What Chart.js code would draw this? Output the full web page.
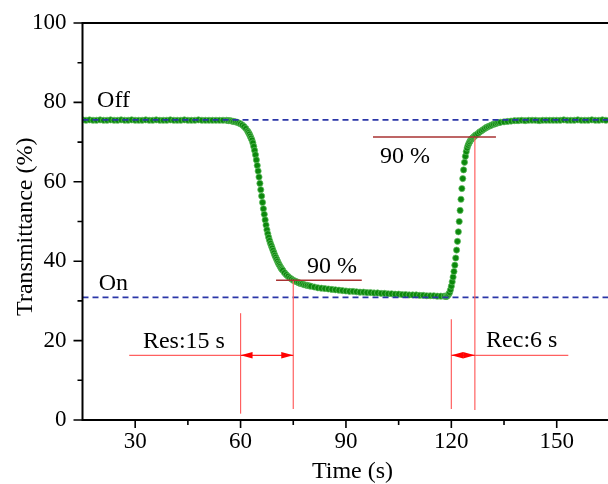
<!DOCTYPE html>
<html>
<head>
<meta charset="utf-8">
<script src="https://cdn.jsdelivr.net/npm/chart.js@4.4.1/dist/chart.umd.min.js"></script>
<style>
  html, body { margin: 0; padding: 0; background: #ffffff; overflow: hidden; }
  #wrap { width: 608px; height: 484px; }
</style>
</head>
<body>
<div id="wrap"><canvas id="c" width="608" height="484"></canvas></div>
<script>
// ---------------- data ----------------
const xTickLabels = [30, 60, 90, 120, 150];
const yTickLabels = [0, 20, 40, 60, 80, 100];
const xMinorTicks = [45, 75, 105, 135];
const yMinorTicks = [10, 30, 50, 70, 90];

// [time (s), transmittance (%)]
const offPlateau = [[15,75.6],[16,75.5],[17,75.6],[18,75.5],[19,75.5],[20,75.6],[21,75.5],[22,75.5],[23,75.6],[24,75.5],
  [25,75.5],[26,75.6],[27,75.5],[28,75.5],[29,75.6],[30,75.5],[31,75.5],[32,75.5],[33,75.6],[34,75.5],[35,75.5],
  [36,75.6],[37,75.5],[38,75.5],[39,75.5],[40,75.6],[41,75.5],[42,75.5],[43,75.5],[44,75.6],[45,75.5],[46,75.5],
  [47,75.5],[48,75.6],[49,75.5],[50,75.5],[51,75.5],[52,75.5],[53,75.5],[54,75.5],[55,75.5]];
const fallEdge = [[56,75.5],[56.5,75.4],[57,75.4],[57.5,75.3],[58,75.2],[58.5,75.1],[59,75.0],[59.5,74.8],[60,74.6],
  [60.5,74.3],[61,73.9],[61.5,73.4],[62,72.8],[62.25,72.4],[62.5,72.0],[62.75,71.5],[63,71.0],[63.25,70.5],[63.5,69.8],
  [63.75,68.9],[64,67.9],[64.25,66.8],[64.5,65.5],[64.75,64.1],[65,62.7],[65.25,61.2],[65.5,59.6],[65.75,58.0],
  [66,56.4],[66.25,54.8],[66.5,53.2],[66.75,51.8],[67,50.4],[67.25,49.1],[67.5,47.9],[67.75,46.9],[68,46.0],
  [68.25,45.2],[68.5,44.5],[68.75,43.9],[69,43.3],[69.25,42.7],[69.5,42.1],[69.75,41.5],[70,41.0],[70.25,40.5],
  [70.5,40.0],[70.75,39.5],[71,39.1],[71.25,38.7],[71.5,38.3],[71.75,38.0],[72,37.7],[72.5,37.1],[73,36.6],
  [73.5,36.2],[74,35.8],[74.5,35.5],[75,35.2],[75.5,35.0],[76,34.8],[76.5,34.6],[77,34.4],[77.5,34.3],[78,34.1],
  [78.5,34.0],[79,33.9],[79.5,33.8],[80,33.7]];
const onPlateau = [[81,33.5],[82,33.3],[83,33.2],[84,33.1],[85,33.0],[86,32.9],[87,32.8],[88,32.7],[89,32.6],[90,32.5],
  [91,32.4],[92,32.4],[93,32.3],[94,32.2],[95,32.2],[96,32.1],[97,32.1],[98,32.0],[99,32.0],[100,31.9],[101,31.9],
  [102,31.8],[103,31.8],[104,31.7],[105,31.7],[106,31.6],[107,31.6],[108,31.5],[109,31.5],[110,31.5],[111,31.4],
  [112,31.4],[113,31.3],[114,31.3],[115,31.3],[116,31.2],[117,31.2],[118,31.2]];
const riseEdge = [[118.5,31.1],[118.75,31.2],[119,31.4],[119.25,31.7],[119.5,32.1],[119.75,32.8],[120,33.7],
  [120.25,34.8],[120.5,36.0],[120.75,37.4],[121,39.0],[121.25,40.8],[121.5,42.8],[121.75,45.0],[122,47.4],
  [122.25,50.0],[122.5,52.8],[122.75,55.6],[123,58.3],[123.25,60.8],[123.5,63.0],[123.75,64.9],[124,66.4],
  [124.25,67.6],[124.5,68.5],[124.75,69.2],[125,69.7],[125.25,70.1],[125.5,70.5],[125.75,70.8],[126,71.0],
  [126.25,71.2],[126.5,71.4],[126.75,71.6],[127,71.8],[127.5,72.1],[128,72.5],[128.5,72.8],[129,73.1],[129.5,73.4],
  [130,73.7],[130.5,73.9],[131,74.1],[131.5,74.3],[132,74.5],[132.5,74.6],[133,74.8],[133.5,74.9],[134,75.0]];
const recovered = [[135,75.1],[136,75.2],[137,75.3],[138,75.4],[139,75.4],[140,75.5],[141,75.4],[142,75.5],[143,75.5],
  [144,75.5],[145,75.4],[146,75.5],[147,75.5],[148,75.5],[149,75.5],[150,75.5],[151,75.5],[152,75.6],[153,75.5],
  [154,75.5],[155,75.5],[156,75.6],[157,75.5],[158,75.5],[159,75.5],[160,75.6],[161,75.5],[162,75.5],[163,75.6],
  [164,75.5]];

const offLevel = 75.6;   // "Off" reference level
const onLevel = 30.9;    // "On" reference level
const resTimes = [60, 75];      // response: 15 s
const recTimes = [120, 126.7];  // recovery: 6 s
const level90 = [35.2, 71.3];   // 90 % levels (fall, rise)

const xMin = 15, xMax = 164.6;

// ---------------- chart ----------------
const FONT = '"Liberation Serif", "Times New Roman", serif';
const pts = [...offPlateau, ...fallEdge, ...onPlateau, ...riseEdge, ...recovered].map(([x, y]) => ({x, y}));

const overlay = {
  id: 'overlay',
  afterDatasetsDraw(chart) {
    const ctx = chart.ctx;
    const xs = chart.scales.x, ys = chart.scales.y;
    const X = v => xs.getPixelForValue(v), Y = v => ys.getPixelForValue(v);
    const ca = chart.chartArea;
    ctx.save();

    // thin red guide lines
    ctx.strokeStyle = '#ff6060';
    ctx.lineWidth = 1.2;
    const seg = (x1, y1, x2, y2) => { ctx.beginPath(); ctx.moveTo(x1, y1); ctx.lineTo(x2, y2); ctx.stroke(); };
    seg(X(resTimes[0]), Y(26.9), X(resTimes[0]), Y(1.6));
    seg(X(resTimes[1]), Y(level90[0]), X(resTimes[1]), Y(2.8));
    seg(X(recTimes[0]), Y(25.4), X(recTimes[0]), Y(2.8));
    seg(X(recTimes[1]), Y(level90[1]), X(recTimes[1]), Y(2.5));
    const arrowY = 16.3;
    seg(X(28.3), Y(arrowY), X(resTimes[0]), Y(arrowY));
    seg(X(recTimes[1]), Y(arrowY), X(153.3), Y(arrowY));

    // double arrows
    const dblArrow = (t1, t2, v) => {
      const x1 = X(t1), x2 = X(t2), y = Y(v);
      ctx.strokeStyle = '#ff2020'; ctx.lineWidth = 1.2;
      seg(x1, y, x2, y);
      ctx.fillStyle = '#ff0000';
      const L = Math.min(12, (x2 - x1) / 2), H = 3.2;
      ctx.beginPath(); ctx.moveTo(x1, y); ctx.lineTo(x1 + L, y - H); ctx.lineTo(x1 + L, y + H); ctx.closePath(); ctx.fill();
      ctx.beginPath(); ctx.moveTo(x2, y); ctx.lineTo(x2 - L, y - H); ctx.lineTo(x2 - L, y + H); ctx.closePath(); ctx.fill();
    };
    dblArrow(resTimes[0], resTimes[1], arrowY);
    dblArrow(recTimes[0], recTimes[1], arrowY);

    // dark red 90% lines
    ctx.strokeStyle = '#a83232';
    ctx.lineWidth = 1.6;
    seg(X(70.1), Y(level90[0]), X(94.5), Y(level90[0]));
    seg(X(97.7), Y(level90[1]), X(132.7), Y(level90[1]));

    // annotation texts
    ctx.fillStyle = '#000';
    ctx.font = '24px ' + FONT;
    ctx.textBaseline = 'alphabetic';
    ctx.textAlign = 'left';
    ctx.fillText('Off', X(19.15), Y(78.8));
    ctx.fillText('On', X(19.6), Y(32.7));
    ctx.fillText('90 %', X(78.9), Y(37.0));
    ctx.fillText('90 %', X(99.7), Y(64.8));
    ctx.fillText('Res:15 s', X(32.2), Y(18.2));
    ctx.fillText('Rec:6 s', X(129.9), Y(18.4));

    // axis lines and frame
    ctx.strokeStyle = '#000';
    ctx.lineWidth = 2;
    ctx.beginPath();
    ctx.moveTo(ca.left, ca.top); ctx.lineTo(ca.right, ca.top);
    ctx.moveTo(ca.left, ca.top - 1); ctx.lineTo(ca.left, ca.bottom + 1);
    ctx.moveTo(ca.left - 1, ca.bottom); ctx.lineTo(ca.right, ca.bottom);
    ctx.stroke();

    // tick marks (outward)
    ctx.lineWidth = 1.6;
    ctx.beginPath();
    xTickLabels.forEach(v => { ctx.moveTo(X(v), ca.bottom); ctx.lineTo(X(v), ca.bottom + 8); });
    xMinorTicks.forEach(v => { ctx.moveTo(X(v), ca.bottom); ctx.lineTo(X(v), ca.bottom + 5); });
    yTickLabels.forEach(v => { ctx.moveTo(ca.left, Y(v)); ctx.lineTo(ca.left - 9, Y(v)); });
    yMinorTicks.forEach(v => { ctx.moveTo(ca.left, Y(v)); ctx.lineTo(ca.left - 5, Y(v)); });
    ctx.stroke();

    // axis titles
    ctx.font = '24px ' + FONT;
    ctx.textAlign = 'center';
    ctx.fillText('Time (s)', 352.5, 478);
    ctx.translate(31.5, 226.7);
    ctx.rotate(-Math.PI / 2);
    ctx.fillText('Transmittance (%)', 0, 0);
    ctx.restore();
  }
};

new Chart(document.getElementById('c'), {
  type: 'scatter',
  data: {
    datasets: [
      {
        label: 'Transmittance',
        data: pts,
        pointRadius: 3.1,
        pointBackgroundColor: '#0c880c',
        pointBorderColor: 'rgba(100,190,100,0.9)',
        pointBorderWidth: 0.8,
        showLine: false,
        order: 3
      },
      {
        label: 'Off',
        type: 'line',
        data: [{x: xMin, y: offLevel}, {x: xMax, y: offLevel}],
        borderColor: '#2b36a8',
        borderWidth: 1.6,
        borderDash: [6, 4],
        pointRadius: 0,
        order: 1
      },
      {
        label: 'On',
        type: 'line',
        data: [{x: xMin, y: onLevel}, {x: xMax, y: onLevel}],
        borderColor: '#2b36a8',
        borderWidth: 1.6,
        borderDash: [6, 4],
        pointRadius: 0,
        order: 1
      }
    ]
  },
  options: {
    responsive: false,
    animation: false,
    devicePixelRatio: 1,
    layout: { autoPadding: false, padding: { top: 23, left: 0, right: 0, bottom: 0 } },
    plugins: { legend: { display: false }, tooltip: { enabled: false } },
    scales: {
      x: {
        type: 'linear',
        min: xMin, max: xMax,
        grid: { display: false, drawTicks: false },
        border: { display: false },
        afterBuildTicks: s => { s.ticks = xTickLabels.map(v => ({value: v})); },
        afterFit: s => { s.height = 64; s.paddingLeft = 0; s.paddingRight = 0; },
        ticks: { color: '#000', padding: 8, font: { family: FONT, size: 23 }, maxRotation: 0, autoSkip: false }
      },
      y: {
        type: 'linear',
        min: 0, max: 100,
        grid: { display: false, drawTicks: false },
        border: { display: false },
        afterBuildTicks: s => { s.ticks = yTickLabels.map(v => ({value: v})); },
        afterFit: s => { s.width = 82.5; s.paddingTop = 0; s.paddingBottom = 0; },
        ticks: { color: '#000', padding: 16, font: { family: FONT, size: 23 } }
      }
    }
  },
  plugins: [overlay]
});
</script>
</body>
</html>
